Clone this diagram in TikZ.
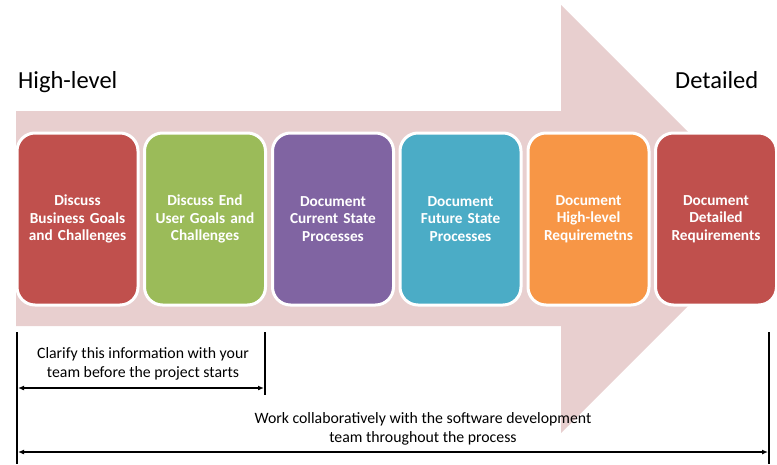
\documentclass[tikz,border=0pt]{standalone}
\usepackage{fontspec}
\setmainfont{Carlito}
\usetikzlibrary{arrows.meta}
\definecolor{arrowbg}{RGB}{232,207,207}
\definecolor{cred}{RGB}{192,80,77}
\definecolor{cgreen}{RGB}{155,187,89}
\definecolor{cpurple}{RGB}{128,100,162}
\definecolor{cteal}{RGB}{75,172,198}
\definecolor{corange}{RGB}{247,150,70}
\tikzset{
  stepbox/.style={draw=white, line width=3pt, rounded corners=18pt, minimum width=121pt, minimum height=172pt, text width=118pt, align=center, text=white, font=\bfseries\fontsize{15.3}{17.5}\selectfont, inner sep=0pt},
  bar/.style={line width=2pt},
  span/.style={line width=1.2pt, {Latex[length=6pt,width=5pt]}-{Latex[length=6pt,width=5pt]}},
  note/.style={align=center, font=\fontsize{15.8}{19.5}\selectfont},
  heading/.style={font=\fontsize{24.5}{28}\selectfont, anchor=base west, inner sep=0pt}
}
\begin{document}
\begin{tikzpicture}[x=1pt,y=-1pt]
\useasboundingbox (0,0) rectangle (777,464);
\fill[arrowbg] (16,111) -- (561,111) -- (561,5) -- (775,219) -- (561,433) -- (561,326) -- (16,326) -- cycle;
\node[heading] (hl) at (18,88) {High-level};
\node[heading] (dt) at (675,88) {Detailed};
\node[stepbox, fill=cred] (b1) at (77.5,219) {Discuss\\Business Goals\\and Challenges};
\node[stepbox, fill=cgreen] (b2) at (205,219) {Discuss End\\User Goals and\\Challenges};
\node[stepbox, fill=cpurple] (b3) at (333,219) {Document\\Current State\\Processes};
\node[stepbox, fill=cteal] (b4) at (460.5,219) {Document\\Future State\\Processes};
\node[stepbox, fill=corange] (b5) at (588.5,219) {Document\\High-level\\Requiremetns};
\node[stepbox, fill=cred] (b6) at (716,219) {Document\\Detailed\\Requirements};
\coordinate (l1) at (17,332);
\coordinate (l2) at (17,464);
\coordinate (m1) at (265,332);
\coordinate (m2) at (265,395);
\coordinate (r1) at (769,332);
\coordinate (r2) at (769,464);
\coordinate (a1) at (18,388);
\coordinate (a2) at (264,388);
\coordinate (c1) at (18,452);
\coordinate (c2) at (768,452);
\draw[bar] (l1) -- (l2);
\draw[bar] (m1) -- (m2);
\draw[bar] (r1) -- (r2);
\draw[span] (a1) -- (a2);
\draw[span] (c1) -- (c2);
\node[note] (n1) at (143,364) {Clarify this information with your\\team before the project starts};
\node[note] (n2) at (423,429) {Work collaboratively with the software development\\team throughout\ the process};
\end{tikzpicture}
\end{document}
